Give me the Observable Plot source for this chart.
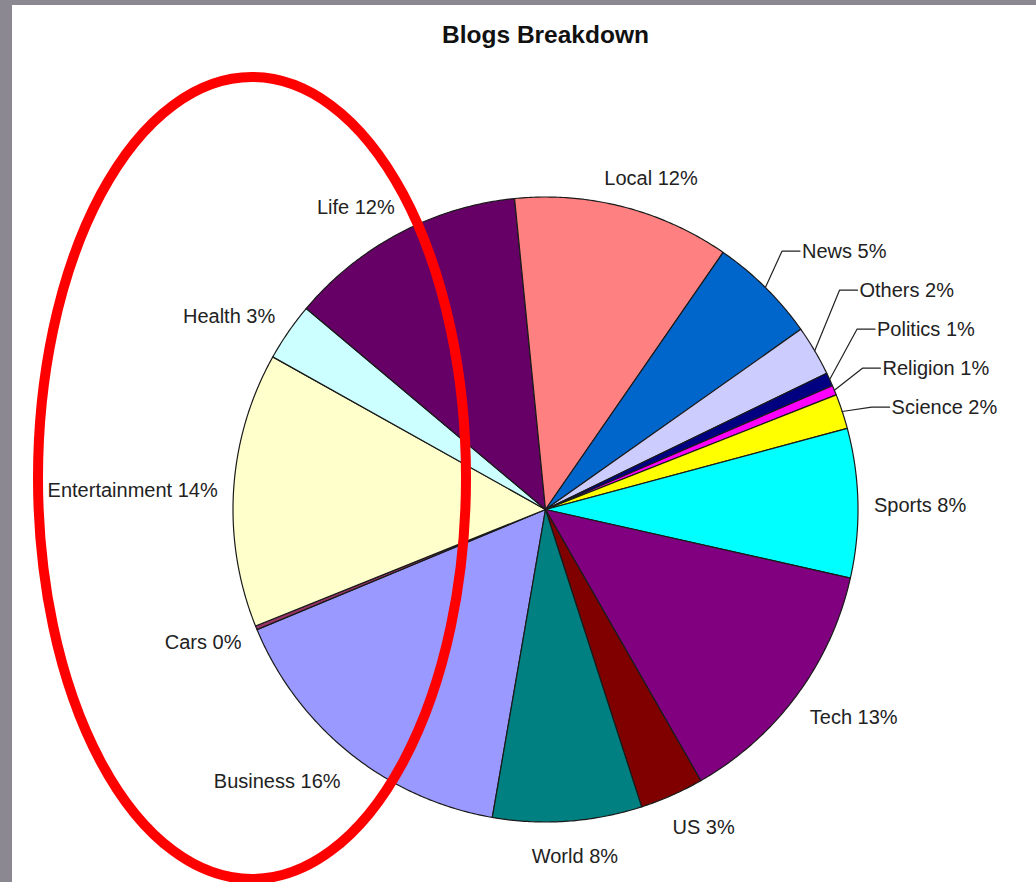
<!DOCTYPE html>
<html><head><meta charset="utf-8">
<script src="https://cdn.jsdelivr.net/npm/d3@7"></script>
<script src="https://cdn.jsdelivr.net/npm/@observablehq/plot@0.6"></script>
<style>
html,body{margin:0;padding:0;background:#8b8891;overflow:hidden;}
#chart{position:absolute;left:12px;top:5px;width:1024px;height:877px;background:#fff;}
#chart svg{display:block;}
</style></head><body><div id="chart"></div>
<script>
// ---- data ----
const title = "Blogs Breakdown";
const categories = ["Business","Cars","Entertainment","Health","Life","Local","News","Others","Politics","Religion","Science","Sports","Tech","US","World"];
const shares = [16.0,0.2,14.2,3.0,12.3,11.2,5.6,2.6,0.7,0.5,1.8,7.7,13.2,3.3,7.7];
const printedPercents = [16,0,14,3,12,12,5,2,1,1,2,8,13,3,8];
const sliceColors = ["#9999ff","#993366","#ffffcc","#ccffff","#660066","#ff8080","#0066cc","#ccccff","#000080","#ff00ff","#ffff00","#00ffff","#800080","#800000","#008080"];

// ---- layout ----
const W = 1024, H = 877;          // svg size
const CX = 533, CY = 504;          // pie centre in svg pixels
const R = 312.5;                   // pie radius
const START = 189.8;               // angle of first slice (deg, clockwise from 12 o'clock)
const GAP_X = 16, GAP_Y = 24, LABEL_DY = 3, LEADER_R = R + 52, LEADER_DY = 12, LEADER_STEP = 39, ELBOW = 20;
const TITLE_Y = -474;
const FONT = "'Liberation Sans', Arial, sans-serif";
const LABEL_SIZE = 20;
const ring = {cx: -293, cy: -31, rx: 214, ry: 401};  // red hand-drawn annotation

const rad = d => d * Math.PI / 180;
const total = d3.sum(shares);
const ctx = document.createElement("canvas").getContext("2d");
ctx.font = `${LABEL_SIZE}px ${FONT}`;

let cum = 0;
const slices = categories.map((name, i) => {
  const a0 = START + cum / total * 360;
  cum += shares[i];
  const a1 = START + cum / total * 360;
  return {name, color: sliceColors[i], a0, a1, mid: (a0 + a1) / 2, share: shares[i] / total,
          label: `${name} ${printedPercents[i]}%`};
});

// polygon outline of each slice
const slicePts = [];
for (const s of slices) {
  slicePts.push({name: s.name, color: s.color, x: 0, y: 0});
  const n = Math.max(2, Math.ceil((s.a1 - s.a0) / 0.5));
  for (let k = 0; k <= n; k++) {
    const a = rad(s.a0 + (s.a1 - s.a0) * k / n);
    slicePts.push({name: s.name, color: s.color, x: R * Math.sin(a), y: -R * Math.cos(a)});
  }
  slicePts.push({name: s.name, color: s.color, x: 0, y: 0});
}

// labels
const labels = [], leaderPts = [];
const leaderSlices = [];
for (const s of slices) {
  const m = ((s.mid % 360) + 360) % 360;
  const t = rad(m);
  if (s.share < 0.06 && m > 0 && m < 90) { leaderSlices.push({s, t, m}); continue; }
  const w = ctx.measureText(s.label).width, h = 16;
  const px = (R + GAP_X) * Math.sin(t), py = -(R + GAP_Y) * Math.cos(t);
  const f = Math.max(-1, Math.min(1, 2 * Math.sin(t)));
  labels.push({text: s.label, x: px + w / 2 * f, y: py - h / 2 * Math.cos(t) + LABEL_DY, anchor: "middle"});
}
leaderSlices.sort((a, b) => b.m - a.m);
let prevY = Infinity;
for (const {s, t} of leaderSlices) {
  let y = -LEADER_R * Math.cos(t) + LEADER_DY;
  y = Math.min(y, prevY - LEADER_STEP);
  prevY = y;
  const x = LEADER_R * Math.sin(t);
  labels.push({text: s.label, x, y, anchor: "start"});
  leaderPts.push({name: s.name, x: R * Math.sin(t), y: -R * Math.cos(t)});
  leaderPts.push({name: s.name, x: x - ELBOW, y});
  leaderPts.push({name: s.name, x: x - 2, y});
}

const chart = Plot.plot({
  width: W, height: H,
  margin: 0,
  style: {background: "#fff", fontFamily: FONT},
  x: {domain: [-CX, W - CX], range: [0, W], axis: null},
  y: {domain: [-CY, H - CY], range: [0, H], axis: null},
  color: {type: "identity"},
  marks: [
    Plot.line(slicePts, {x: "x", y: "y", z: "name", fill: "color", stroke: "#1a1a1a", strokeWidth: 1.2, strokeLinejoin: "round"}),
    Plot.line(leaderPts, {x: "x", y: "y", z: "name", stroke: "#222", strokeWidth: 1.2}),
    Plot.text(labels.filter(d => d.anchor === "middle"), {x: "x", y: "y", text: "text", textAnchor: "middle", lineAnchor: "middle", fontSize: LABEL_SIZE, fill: "#222"}),
    Plot.text(labels.filter(d => d.anchor === "start"), {x: "x", y: "y", text: "text", textAnchor: "start", lineAnchor: "middle", fontSize: LABEL_SIZE, fill: "#222"}),
    Plot.text([title], {x: () => 0, y: () => TITLE_Y, text: d => d, fontSize: 24.5, fontWeight: "bold", fill: "#111", lineAnchor: "middle"}),
    (index, scales) => {
      const sx = scales.x, sy = scales.y;
      const e = document.createElementNS("http://www.w3.org/2000/svg", "ellipse");
      e.setAttribute("cx", sx(ring.cx));
      e.setAttribute("cy", sy(ring.cy));
      e.setAttribute("rx", sx(ring.cx + ring.rx) - sx(ring.cx));
      e.setAttribute("ry", sy(ring.cy + ring.ry) - sy(ring.cy));
      e.setAttribute("fill", "none");
      e.setAttribute("stroke", "#ff0000");
      e.setAttribute("stroke-width", 10);
      return e;
    }
  ]
});
document.getElementById("chart").appendChild(chart);
</script>
</body></html>
